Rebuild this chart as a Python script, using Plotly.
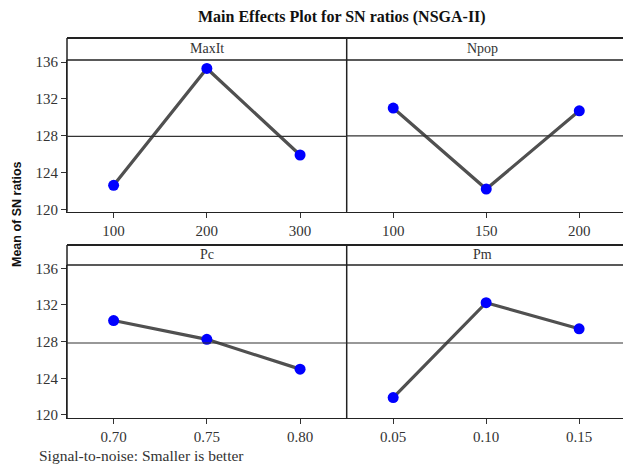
import plotly.graph_objects as go

# ---- data ----
factors = ["MaxIt", "Npop", "Pc", "Pm"]
maxit_levels = [100, 200, 300]
maxit_sn = [122.6, 135.3, 125.9]
npop_levels = [100, 150, 200]
npop_sn = [131.0, 122.2, 130.7]
pc_levels = [0.70, 0.75, 0.80]
pc_sn = [130.3, 128.25, 125.0]
pm_levels = [0.05, 0.10, 0.15]
pm_sn = [121.9, 132.25, 129.4]
pc_ticks = ["0.70", "0.75", "0.80"]
pm_ticks = ["0.05", "0.10", "0.15"]
y_ticks = [120, 124, 128, 132, 136]

W, H = 623, 466
ML, MR, MT, MB = 67, 0, 60, 48
PW = W - ML - MR
PH = H - MT - MB


def px(x):
    return (x - ML) / PW


def py(y):
    return (H - MB - y) / PH


mid = 346.7
top_hdr, top_plot, top_bot = 38, 60, 211.7
bot_hdr, bot_plot, bot_bot = 245, 265, 418

fig = go.Figure()

panels = [
    (maxit_levels, maxit_sn, "x", "y"),
    (npop_levels, npop_sn, "x2", "y2"),
    (pc_levels, pc_sn, "x3", "y3"),
    (pm_levels, pm_sn, "x4", "y4"),
]
for xs, ys, xa, ya in panels:
    fig.add_trace(go.Scatter(
        x=xs, y=ys, xaxis=xa, yaxis=ya, mode="lines+markers",
        line=dict(color="#505050", width=3.2),
        marker=dict(color="#0000FF", size=11),
        showlegend=False, hoverinfo="x+y"))

tickfont = dict(family="Liberation Serif", size=15, color="#333333")
axis_common = dict(showgrid=False, zeroline=False, ticks="outside", ticklen=5,
                   tickcolor="#333333", tickfont=tickfont, showline=True,
                   linecolor="#222222", linewidth=1.2)
axis_noticks = {k: v for k, v in axis_common.items() if k != "ticks"}

top_dom = [py(top_bot), py(top_plot)]
bot_dom = [py(bot_bot), py(bot_plot)]
left_dom = [0, px(mid)]
right_dom = [px(mid), 1]

fig.update_layout(
    width=W, height=H,
    margin=dict(l=ML, r=MR, t=MT, b=MB),
    paper_bgcolor="white", plot_bgcolor="white",
    xaxis=dict(domain=left_dom, anchor="y", range=[50, 350],
               tickvals=maxit_levels, **axis_common),
    yaxis=dict(domain=top_dom, anchor="x", range=[119.74, 136.22],
               tickvals=y_ticks, **axis_common),
    xaxis2=dict(domain=right_dom, anchor="y2", range=[75, 223.5],
                tickvals=npop_levels, **axis_common),
    yaxis2=dict(domain=top_dom, anchor="x2", range=[119.74, 136.22],
                tickvals=y_ticks, showticklabels=False, ticks="", **axis_noticks),
    xaxis3=dict(domain=left_dom, anchor="y3", range=[0.675, 0.825],
                tickvals=pc_levels, ticktext=pc_ticks, **axis_common),
    yaxis3=dict(domain=bot_dom, anchor="x3", range=[119.67, 136.36],
                tickvals=y_ticks, **axis_common),
    xaxis4=dict(domain=right_dom, anchor="y4", range=[0.025, 0.1736],
                tickvals=pm_levels, ticktext=pm_ticks, **axis_common),
    yaxis4=dict(domain=bot_dom, anchor="x4", range=[119.67, 136.36],
                tickvals=y_ticks, showticklabels=False, ticks="", **axis_noticks),
)

shapes = []
lc = "#222222"
for hdr, plot_top, bot in [(top_hdr, top_plot, top_bot), (bot_hdr, bot_plot, bot_bot)]:
    shapes.append(dict(type="line", xref="paper", yref="paper", x0=px(ML), x1=1.02,
                       y0=py(hdr), y1=py(hdr), line=dict(color=lc, width=2)))
    shapes.append(dict(type="line", xref="paper", yref="paper", x0=px(ML), x1=1.02,
                       y0=py(plot_top), y1=py(plot_top), line=dict(color=lc, width=1.5)))
    shapes.append(dict(type="line", xref="paper", yref="paper", x0=px(ML), x1=px(ML),
                       y0=py(bot), y1=py(hdr), line=dict(color=lc, width=1.5)))
    shapes.append(dict(type="line", xref="paper", yref="paper", x0=px(mid), x1=px(mid),
                       y0=py(bot), y1=py(hdr), line=dict(color=lc, width=1.5)))

# reference lines at overall mean of each panel
for (xs, ys, xa, ya) in panels:
    m = sum(ys) / len(ys)
    xd = "x domain" if xa == "x" else xa + " domain"
    shapes.append(dict(type="line", xref=xd, yref=ya, x0=0, x1=1, y0=m, y1=m,
                       line=dict(color="#333333", width=1.2)))
fig.update_layout(shapes=shapes)

ann = []
hdrfont = dict(family="Liberation Serif", size=14, color="#333333")
for name, (cx, cy) in zip(factors, [((ML + mid) / 2, (top_hdr + top_plot) / 2),
                                      ((mid + 623) / 2 - 2, (top_hdr + top_plot) / 2),
                                      ((ML + mid) / 2, (bot_hdr + bot_plot) / 2),
                                      ((mid + 623) / 2 - 2, (bot_hdr + bot_plot) / 2)]):
    ann.append(dict(text=name, xref="paper", yref="paper", x=px(cx), y=py(cy),
                    xanchor="center", yanchor="middle", showarrow=False, font=hdrfont))

ann.append(dict(text="<b>Main Effects Plot for SN ratios (NSGA-II)</b>", xref="paper", yref="paper",
                x=px(342), y=py(17), xanchor="center", yanchor="middle", showarrow=False,
                font=dict(family="Liberation Serif", size=16, color="#111111")))
ann.append(dict(text="<b>Mean of SN ratios</b>", xref="paper", yref="paper",
                x=px(17), y=py(214), xanchor="center", yanchor="middle", showarrow=False,
                textangle=-90, font=dict(family="Liberation Sans", size=12.5, color="#111111")))
ann.append(dict(text="Signal-to-noise: Smaller is better", xref="paper", yref="paper",
                x=px(37), y=py(455), xanchor="left", yanchor="middle", showarrow=False,
                font=dict(family="Liberation Serif", size=15.5, color="#333333")))
fig.update_layout(annotations=ann)

fig.write_html("out.html", config={"displayModeBar": False},
               post_script="document.body.style.margin='0';")
